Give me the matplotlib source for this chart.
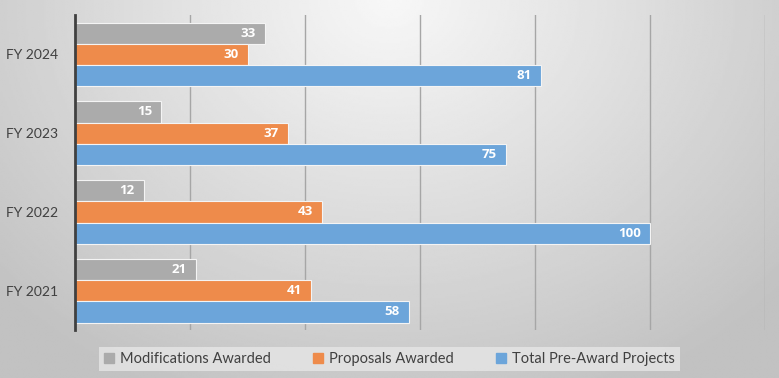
import matplotlib.pyplot as plt
import numpy as np

categories = ["FY 2021", "FY 2022", "FY 2023", "FY 2024"]
modifications = [21, 12, 15, 33]
proposals = [41, 43, 37, 30]
total_pre_award = [58, 100, 75, 81]
series_names = ["Modifications Awarded", "Proposals Awarded", "Total Pre-Award Projects"]
colors = ["#ABABAB", "#EE8B4B", "#6CA5DA"]

plt.rcParams["font.family"] = ["Lato", "DejaVu Sans"]

fig = plt.figure(figsize=(7.79, 3.78), dpi=100)

# radial grey background gradient
bg = fig.add_axes([0, 0, 1, 1], zorder=-10)
yy, xx = np.mgrid[0:1:200j, 0:1:400j]
r = np.sqrt(((xx - 0.5) * 1.7) ** 2 + ((yy - 0.0) * 1.0) ** 2)
shade = 0.97 - 0.21 * np.clip(r, 0, 1.15) / 1.15
bg.imshow(shade, cmap="gray", vmin=0, vmax=1, aspect="auto",
          extent=[0, 1, 1, 0], interpolation="bilinear")
bg.set_axis_off()

ax = fig.add_axes([0.0963, 0.127, 0.8858, 0.833])
ax.patch.set_alpha(0)

y = np.arange(len(categories))
h = 0.27
for vals, off, col in zip([modifications, proposals, total_pre_award], [h, 0, -h], colors):
    bars = ax.barh(y + off, vals, height=h, color=col, edgecolor="#F4F4F4",
                   linewidth=0.8, zorder=3)
    for b, v in zip(bars, vals):
        ax.text(b.get_width() - 1.6, b.get_y() + b.get_height() / 2, str(v),
                ha="right", va="center", color="white", fontsize=9.5,
                fontweight="bold", family=["Open Sans", "DejaVu Sans"], zorder=4)

ax.set_xlim(0, 120)
ax.set_ylim(-0.5, 3.5)
ax.set_xticks(np.arange(0, 121, 20))
ax.set_xticklabels([])
ax.set_yticks(y)
ax.set_yticklabels(categories, fontsize=10, color="#404040")
ax.tick_params(axis="both", length=0, pad=12)
ax.grid(True, axis="x", color="#A6A6A6", linewidth=1, zorder=0)
for s in ["top", "right", "bottom"]:
    ax.spines[s].set_visible(False)
ax.spines["left"].set_color("#404040")
ax.spines["left"].set_linewidth(2)
ax.spines["left"].set_zorder(5)

handles = [plt.Rectangle((0, 0), 1, 1, color=c) for c in colors]
leg = fig.legend(handles, series_names, loc="center", bbox_to_anchor=(0.5, 0.05),
                 ncol=3, frameon=True, fontsize=10.5, handlelength=0.7,
                 handleheight=0.7, handletextpad=0.4, columnspacing=2.9,
                 borderpad=0.35, borderaxespad=0, fancybox=False,
                 labelcolor="#404040")
leg.get_frame().set_facecolor("#E6E6E6")
leg.get_frame().set_alpha(0.8)
leg.get_frame().set_linewidth(0)

fig.savefig("out.png", dpi=100)
